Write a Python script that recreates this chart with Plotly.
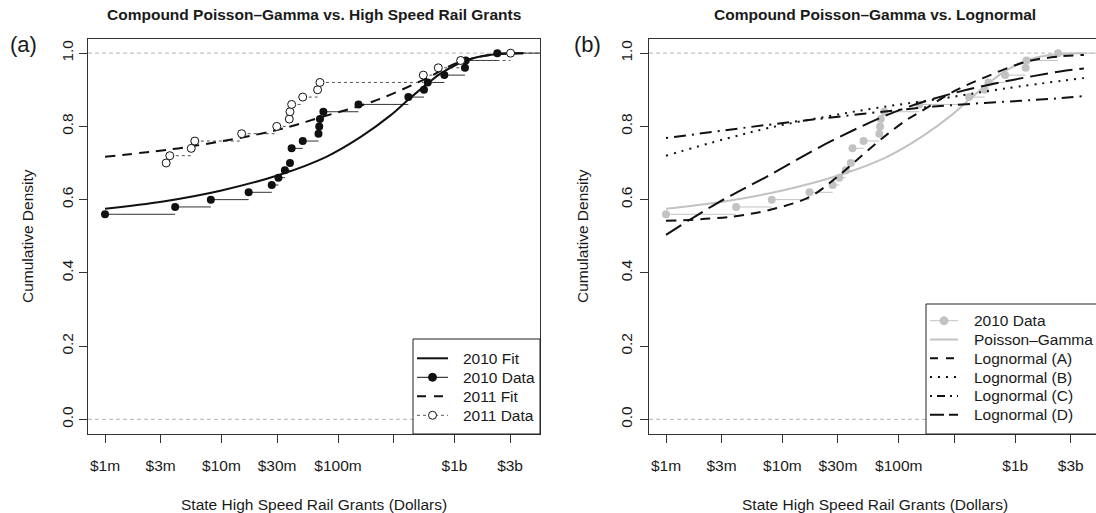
import plotly.graph_objects as go

W, H = 1096, 513
MILLION = 1e6
FONT = "Liberation Sans, Arial, Helvetica, sans-serif"
INK = "#1a1a1a"
GRAY = "#c2c2c2"
FS = 15.5

# ---------------- data (dollar amounts in millions) ----------------
tick_millions = [1, 3, 10, 30, 100, 300, 1000, 3000]
tick_labels = ["$1m", "$3m", "$10m", "$30m", "$100m", "", "$1b", "$3b"]
y_ticks = [0.0, 0.2, 0.4, 0.6, 0.8, 1.0]
y_tick_labels = ["0.0", "0.2", "0.4", "0.6", "0.8", "1.0"]

grants_2010 = [1, 4.0, 8.1, 17.1, 27, 30.8, 35, 38.7, 40, 49.8, 68, 69, 70,
               74.9, 150, 402, 547, 589, 818, 1230, 1250, 2330]
ecdf_2010 = [0.56, 0.58, 0.60, 0.62, 0.64, 0.66, 0.68, 0.70, 0.74, 0.76, 0.78,
             0.80, 0.82, 0.84, 0.86, 0.88, 0.90, 0.92, 0.94, 0.96, 0.98, 1.00]

grants_2011 = [3.35, 3.6, 5.5, 5.9, 14.9, 29.8, 38.2, 38.7, 40, 49.8, 66.8, 70,
               540, 726, 1130, 3030]
ecdf_2011 = [0.70, 0.72, 0.74, 0.76, 0.78, 0.80, 0.82, 0.84, 0.86, 0.88, 0.90,
             0.92, 0.94, 0.96, 0.98, 1.00]

fit2010_x = [1, 3.16, 10, 31.6, 79.4, 158, 282, 398, 562, 794, 1259, 1995, 3890]
fit2010_y = [0.575, 0.595, 0.625, 0.668, 0.717, 0.772, 0.83, 0.872, 0.912,
             0.948, 0.98, 0.995, 1.0]

fit2011_x = [1, 5.4, 29.8, 74.8, 200, 540, 1050, 2020, 3890]
fit2011_y = [0.717, 0.745, 0.79, 0.827, 0.868, 0.927, 0.973, 0.995, 1.0]

lnA_x = [1, 3.8, 8.97, 17.3, 27.5, 40.7, 69.2, 117, 163, 294, 569, 1256, 2427, 3890]
lnA_y = [0.542, 0.554, 0.577, 0.608, 0.654, 0.70, 0.763, 0.818, 0.845, 0.895,
         0.936, 0.977, 0.991, 0.995]

lnB_x = [1, 3.16, 7.94, 25.1, 69.2, 213.8, 794, 3890]
lnB_y = [0.72, 0.765, 0.797, 0.828, 0.852, 0.874, 0.903, 0.932]

lnC_x = [1, 7.36, 27.5, 198, 2427, 3890]
lnC_y = [0.768, 0.804, 0.825, 0.854, 0.877, 0.883]

lnD_x = [1, 2.74, 7.36, 27.5, 102.6, 383.7, 2427, 3890]
lnD_y = [0.504, 0.59, 0.663, 0.763, 0.845, 0.90, 0.95, 0.958]

legend_a_labels = ["2010 Fit", "2010 Data", "2011 Fit", "2011 Data"]
legend_b_labels = ["2010 Data", "Poisson\u2013Gamma", "Lognormal (A)",
                   "Lognormal (B)", "Lognormal (C)", "Lognormal (D)"]

# axis ranges (log10 dollars)
XRANGE_A = [5.854, 9.734]
XRANGE_B = [5.854, 9.694]

# line styles
DASH_2011_FIT = "10px,7px"
DASH_2011_DATA = "3px,3px"
DASH_A = "10px,7px"
DASH_B = "2px,6px"
DASH_C = "2px,6px,12px,6px"
DASH_D = "18px,7px"


def dollars(vals):
    return [v * MILLION for v in vals]


def steps(xs, ys, x_end):
    sx, sy = [], []
    for i in range(len(xs)):
        nxt = xs[i + 1] if i + 1 < len(xs) else x_end
        sx += [xs[i] * MILLION, nxt * MILLION, None]
        sy += [ys[i], ys[i], None]
    return sx, sy


fig = go.Figure()
x_end_a = 10 ** XRANGE_A[1] / MILLION
x_end_b = 10 ** XRANGE_B[1] / MILLION

# ---------------- panel (a) ----------------
sx, sy = steps(grants_2010, ecdf_2010, x_end_a)
fig.add_trace(go.Scatter(x=sx, y=sy, mode="lines", line=dict(color="#333333", width=1),
                         xaxis="x", yaxis="y"))
sx, sy = steps(grants_2011, ecdf_2011, x_end_a)
fig.add_trace(go.Scatter(x=sx, y=sy, mode="lines",
                         line=dict(color="#555555", width=1, dash=DASH_2011_DATA),
                         xaxis="x", yaxis="y"))
fig.add_trace(go.Scatter(x=dollars(fit2010_x), y=fit2010_y, mode="lines",
                         line=dict(color="#111111", width=2, shape="spline"),
                         name="2010 Fit", xaxis="x", yaxis="y"))
fig.add_trace(go.Scatter(x=dollars(fit2011_x), y=fit2011_y, mode="lines",
                         line=dict(color="#111111", width=2, dash=DASH_2011_FIT, shape="spline"),
                         name="2011 Fit", xaxis="x", yaxis="y"))
fig.add_trace(go.Scatter(x=dollars(grants_2010), y=ecdf_2010, mode="markers",
                         marker=dict(color="#111111", size=8),
                         name="2010 Data", xaxis="x", yaxis="y"))
fig.add_trace(go.Scatter(x=dollars(grants_2011), y=ecdf_2011, mode="markers",
                         marker=dict(color="white", size=8,
                                     line=dict(color="#111111", width=1)),
                         name="2011 Data", xaxis="x", yaxis="y"))

# ---------------- panel (b) ----------------
sx, sy = steps(grants_2010, ecdf_2010, x_end_b)
fig.add_trace(go.Scatter(x=sx, y=sy, mode="lines", line=dict(color=GRAY, width=1),
                         xaxis="x2", yaxis="y2"))
fig.add_trace(go.Scatter(x=dollars(fit2010_x), y=fit2010_y, mode="lines",
                         line=dict(color=GRAY, width=2, shape="spline"),
                         name="Poisson\u2013Gamma", xaxis="x2", yaxis="y2"))
fig.add_trace(go.Scatter(x=dollars(grants_2010), y=ecdf_2010, mode="markers",
                         marker=dict(color=GRAY, size=8),
                         name="2010 Data", xaxis="x2", yaxis="y2"))
for name, lx, ly, dash in [(legend_b_labels[2], lnA_x, lnA_y, DASH_A),
                           (legend_b_labels[3], lnB_x, lnB_y, DASH_B),
                           (legend_b_labels[4], lnC_x, lnC_y, DASH_C),
                           (legend_b_labels[5], lnD_x, lnD_y, DASH_D)]:
    fig.add_trace(go.Scatter(x=dollars(lx), y=ly, mode="lines",
                             line=dict(color="#111111", width=2, dash=dash, shape="spline"),
                             name=name, xaxis="x2", yaxis="y2"))

fig.update_traces(showlegend=False, hoverinfo="skip")

# ---------------- axes ----------------
y_dom = [1 - 434 / H, 1 - 38.5 / H]
common_x = dict(type="log", tickmode="array",
                tickvals=dollars(tick_millions), ticktext=tick_labels,
                ticks="outside", ticklen=8, tickwidth=1, tickcolor="#333333",
                showline=True, linecolor="#333333", linewidth=1, mirror=True,
                showgrid=False, zeroline=False, ticklabelstandoff=9,
                tickfont=dict(family=FONT, size=FS, color=INK), fixedrange=True)
common_y = dict(range=[-0.04, 1.04], tickmode="array", tickvals=y_ticks,
                ticktext=y_tick_labels, tickangle=-90,
                ticks="outside", ticklen=8, tickwidth=1, tickcolor="#333333",
                showline=True, linecolor="#333333", linewidth=1,
                showgrid=False, zeroline=False, domain=y_dom,
                tickfont=dict(family=FONT, size=FS, color=INK), fixedrange=True)

annotations = [
    dict(text="<b>Compound Poisson\u2013Gamma vs. High Speed Rail Grants</b>",
         x=314 / W, y=1 - 14 / H),
    dict(text="<b>Compound Poisson\u2013Gamma vs. Lognormal</b>",
         x=875 / W, y=1 - 14 / H),
    dict(text="State High Speed Rail Grants (Dollars)", x=314 / W, y=1 - 504 / H),
    dict(text="State High Speed Rail Grants (Dollars)", x=875 / W, y=1 - 504 / H),
    dict(text="Cumulative Density", x=27 / W, y=1 - 236 / H, textangle=-90),
    dict(text="Cumulative Density", x=582 / W, y=1 - 236 / H, textangle=-90),
    dict(text="(a)", x=23 / W, y=1 - 44 / H, font=dict(family=FONT, size=22, color=INK)),
    dict(text="(b)", x=587 / W, y=1 - 44 / H, font=dict(family=FONT, size=22, color=INK)),
]
for a in annotations:
    a.setdefault("font", dict(family=FONT, size=FS, color=INK))
    a.update(xanchor="center")

shapes = []
for yref, xref in (("y", "x domain"), ("y2", "x2 domain")):
    for v in (0.0, 1.0):
        shapes.append(dict(type="line", xref=xref, yref=yref, x0=0, x1=1, y0=v, y1=v,
                           line=dict(color="#b3b3b3", width=1, dash="4px,3px"),
                           layer="below"))


# ---------------- hand-drawn R-style legends (pixel layout) ----------------
def px(x):
    return x / W


def py(y):
    return 1 - y / H


def legend_box(x0, y0, x1, y1):
    shapes.append(dict(type="rect", xref="paper", yref="paper",
                       x0=px(x0), x1=px(x1), y0=py(y1), y1=py(y0),
                       line=dict(color="#222222", width=1), fillcolor="white",
                       layer="above"))


def legend_row(label, y, sx0, sx1, tx, line=None, marker=None):
    if line is not None:
        shapes.append(dict(type="line", xref="paper", yref="paper",
                           x0=px(sx0), x1=px(sx1), y0=py(y), y1=py(y),
                           line=line, layer="above"))
    if marker is not None:
        r = 4
        cx = (sx0 + sx1) / 2
        shapes.append(dict(type="circle", xref="paper", yref="paper",
                           x0=px(cx - r), x1=px(cx + r), y0=py(y + r), y1=py(y - r),
                           fillcolor=marker[0], line=dict(color=marker[1], width=1),
                           layer="above"))
    annotations.append(dict(text=label, x=px(tx), y=py(y), xanchor="left",
                            font=dict(family=FONT, size=FS, color=INK)))


legend_box(413, 339, 540, 434)
rows_a = [dict(line=dict(color="#111111", width=2)),
          dict(line=dict(color="#111111", width=1), marker=("#111111", "#111111")),
          dict(line=dict(color="#111111", width=2, dash="9px,8px")),
          dict(line=dict(color="#555555", width=1, dash=DASH_2011_DATA),
               marker=("white", "#111111"))]
for i, (lab, st) in enumerate(zip(legend_a_labels, rows_a)):
    legend_row(lab, 358.3 + 19 * i, 417, 448, 461, **st)

legend_box(926, 304, 1110, 434)
rows_b = [dict(line=dict(color=GRAY, width=1), marker=(GRAY, GRAY)),
          dict(line=dict(color=GRAY, width=2)),
          dict(line=dict(color="#111111", width=2, dash="8px,8px")),
          dict(line=dict(color="#111111", width=2, dash="2px,6px")),
          dict(line=dict(color="#111111", width=2, dash="2px,5px,8px,5px")),
          dict(line=dict(color="#111111", width=2, dash="14px,5px"))]
for i, (lab, st) in enumerate(zip(legend_b_labels, rows_b)):
    legend_row(lab, 320.7 + 18.8 * i, 930, 958, 971.5, **st)

for a in annotations:
    a.update(xref="paper", yref="paper", showarrow=False, yanchor="middle")

fig.update_layout(
    width=W, height=H, margin=dict(l=0, r=0, t=0, b=0),
    paper_bgcolor="white", plot_bgcolor="white", showlegend=False,
    font=dict(family=FONT, size=FS, color=INK),
    xaxis=dict(common_x, domain=[88 / W, 540 / W], range=XRANGE_A, anchor="y"),
    yaxis=dict(common_y, anchor="x", mirror=True),
    xaxis2=dict(common_x, domain=[649 / W, 1.0], range=XRANGE_B, anchor="y2"),
    yaxis2=dict(common_y, anchor="x2", mirror=False, ticklabelstandoff=2),
    annotations=annotations, shapes=shapes, hovermode=False,
)

fig.write_html("out.html", config={"displayModeBar": False, "staticPlot": True},
               post_script="document.body.style.margin='0';"
                           "document.body.style.overflow='hidden';")
